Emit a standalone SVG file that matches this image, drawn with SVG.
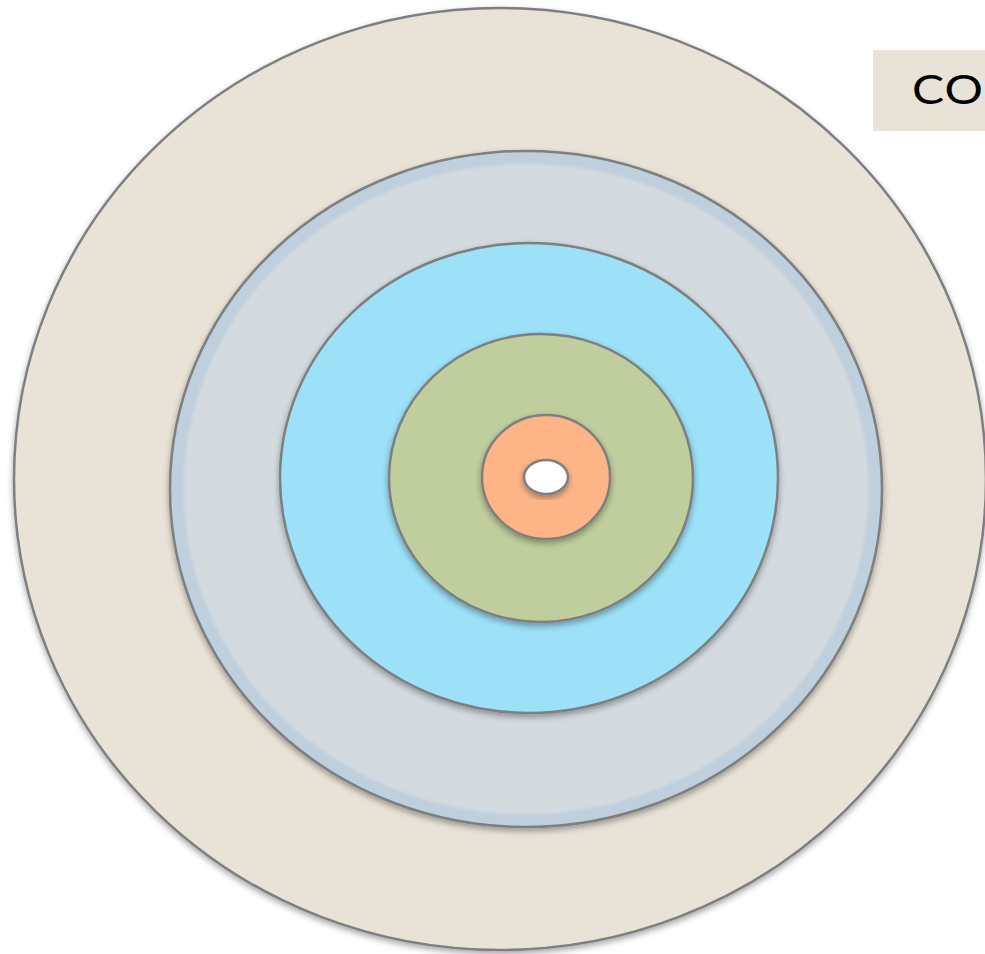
<svg xmlns="http://www.w3.org/2000/svg" width="985" height="954" viewBox="0 0 985 954">
<defs>
<filter id="sh" x="-10%" y="-10%" width="120%" height="125%">
<feGaussianBlur in="SourceAlpha" stdDeviation="3"/>
<feOffset dx="0" dy="3" result="b"/>
<feComponentTransfer><feFuncA type="linear" slope="0.35"/></feComponentTransfer>
<feMerge><feMergeNode/><feMergeNode in="SourceGraphic"/></feMerge>
</filter>
<radialGradient id="gb" cx="0.5" cy="0.5" r="0.5">
<stop offset="0.955" stop-color="#D3DAE0"/>
<stop offset="0.968" stop-color="#C0CFDD"/>
</radialGradient>
</defs>
<style>
.ring{stroke:#7D7F80;stroke-width:2.5;filter:url(#sh)}
.lbl{font-family:"Lato","Liberation Sans",sans-serif;font-size:40px;letter-spacing:1px;fill:#000}
</style>
<rect width="985" height="954" fill="#FFFFFF"/>
<g id="outer"><ellipse class="ring" cx="500" cy="479" rx="486" ry="471" fill="#E9E2D7"/></g>
<g id="grayblue"><ellipse class="ring" cx="526" cy="489" rx="356" ry="338" fill="url(#gb)"/></g>
<g id="lightblue"><ellipse class="ring" cx="529" cy="478" rx="249" ry="235" fill="#9CE1F8"/></g>
<g id="green"><ellipse class="ring" cx="541" cy="478" rx="152" ry="144" fill="#BFCE9C"/></g>
<g id="orange"><ellipse class="ring" cx="546" cy="477" rx="64" ry="62" fill="#FDB587"/></g>
<g id="core"><ellipse class="ring" cx="546" cy="477" rx="22" ry="17" fill="#FFFFFF" stroke-width="4"/></g>
<g id="label"><rect x="873" y="50" width="120" height="81" fill="#E9E2D7"/><text class="lbl" transform="translate(912,104) scale(1.2,1)">CO</text></g>
<g id="connectors"/>
</svg>
